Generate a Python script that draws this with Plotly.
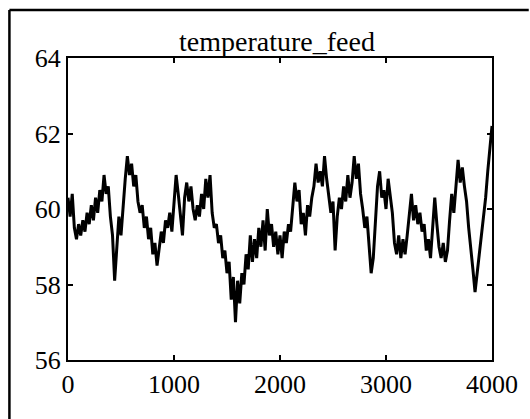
import numpy as np
import plotly.graph_objects as go

title_text = "temperature_feed"
x_tick_vals = [0, 1000, 2000, 3000, 4000]
y_tick_vals = [56, 58, 60, 62, 64]

# values read every 20 samples (t = 0 ... 4000)
values = [
    60.3, 59.8, 60.4, 59.5, 59.2, 59.6, 59.3, 59.7, 59.4, 59.9,
    59.6, 60.1, 59.7, 60.3, 59.9, 60.5, 60.2, 60.9, 60.4, 60.6,
    59.8, 59.3, 58.1, 59.0, 59.8, 59.3, 60.2, 60.8, 61.4, 60.9,
    61.2, 60.6, 60.9, 60.2, 59.9, 60.1, 59.5, 59.8, 59.2, 59.5,
    58.8, 59.1, 58.5, 59.0, 59.4, 59.1, 59.7, 59.5, 59.9, 59.4,
    60.2, 60.9, 60.4, 59.8, 59.3, 60.3, 60.7, 60.2, 60.6, 60.0,
    59.7, 60.1, 59.8, 60.4, 60.0, 60.8, 60.3, 60.9, 59.9, 59.5,
    59.6, 59.1, 59.3, 58.7, 58.9, 58.3, 58.6, 57.6, 58.2, 57.0,
    58.1, 57.5, 58.3, 58.0, 58.8, 58.4, 59.3, 58.6, 59.2, 58.7,
    59.5, 59.0, 59.7, 58.9, 60.0, 59.3, 59.6, 59.0, 59.4, 58.8,
    59.3, 58.7, 59.4, 59.1, 59.6, 59.4, 60.0, 60.7, 60.2, 60.5,
    59.6, 59.9, 59.3, 60.1, 59.8, 60.3, 60.6, 61.2, 60.7, 61.0,
    60.6, 61.4, 60.8, 60.3, 59.9, 60.2, 58.9, 59.8, 60.3, 60.0,
    60.6, 60.2, 60.9, 60.3, 60.7, 61.4, 60.8, 61.2, 60.4, 60.0,
    59.5, 59.8, 59.1, 58.3, 58.7, 59.6, 60.6, 61.0, 60.3, 60.5,
    60.0, 60.8, 60.3, 59.9, 59.1, 58.8, 59.3, 58.7, 59.2, 58.8,
    59.3, 59.8, 60.4, 59.7, 60.1, 59.6, 59.9, 59.4, 59.6, 58.9,
    59.2, 58.7, 59.5, 60.3, 59.6, 59.0, 58.7, 59.1, 58.6, 58.9,
    59.7, 60.4, 59.9, 60.5, 61.3, 60.7, 61.1, 60.6, 60.2, 59.5,
    59.0, 58.4, 57.8, 58.3, 58.9, 59.4, 59.8, 60.3, 61.0, 61.6,
    62.2,
]
t = np.arange(len(values)) * 20

W, H = 530, 419
L, R, T, B = 68, 495, 58, 360  # plot area in pixels

def px(xpix):
    return (xpix - L) / (R - L)

def py(ypix):
    return (B - ypix) / (B - T)

fig = go.Figure(go.Scatter(x=t, y=values, mode="lines",
                           line=dict(color="black", width=3),
                           hoverinfo="skip", showlegend=False))

font = dict(family="Liberation Serif, Times New Roman, serif", size=26, color="black")

fig.update_layout(
    width=W, height=H,
    margin=dict(l=L, r=W - R, t=T, b=H - B, pad=0),
    paper_bgcolor="white", plot_bgcolor="white",
    font=font,
    showlegend=False,
)
fig.update_xaxes(range=[0, 4000], tickvals=x_tick_vals, ticktext=[str(v) for v in x_tick_vals],
                 ticks="inside", ticklen=5, tickwidth=1.5, tickcolor="black",
                 showline=True, linecolor="black", linewidth=2, mirror="ticks",
                 showgrid=False, zeroline=False, tickfont=font)
fig.update_yaxes(range=[56, 64], tickvals=y_tick_vals, ticktext=[str(v) for v in y_tick_vals],
                 ticks="inside", ticklen=5, tickwidth=1.5, tickcolor="black",
                 showline=True, linecolor="black", linewidth=2, mirror="ticks",
                 showgrid=False, zeroline=False, tickfont=font)

fig.add_annotation(text=title_text, xref="paper", yref="paper",
                   x=px(278), y=py(42), xanchor="center", yanchor="middle",
                   showarrow=False, font=dict(family=font["family"], size=28, color="black"))

# outer frame: top and left edges
fig.add_shape(type="line", xref="paper", yref="paper",
              x0=px(9), y0=py(10), x1=px(532), y1=py(10),
              line=dict(color="black", width=2.5))
fig.add_shape(type="line", xref="paper", yref="paper",
              x0=px(9), y0=py(10), x1=px(9), y1=py(425),
              line=dict(color="black", width=2.5))

fig.write_html("out.html")
